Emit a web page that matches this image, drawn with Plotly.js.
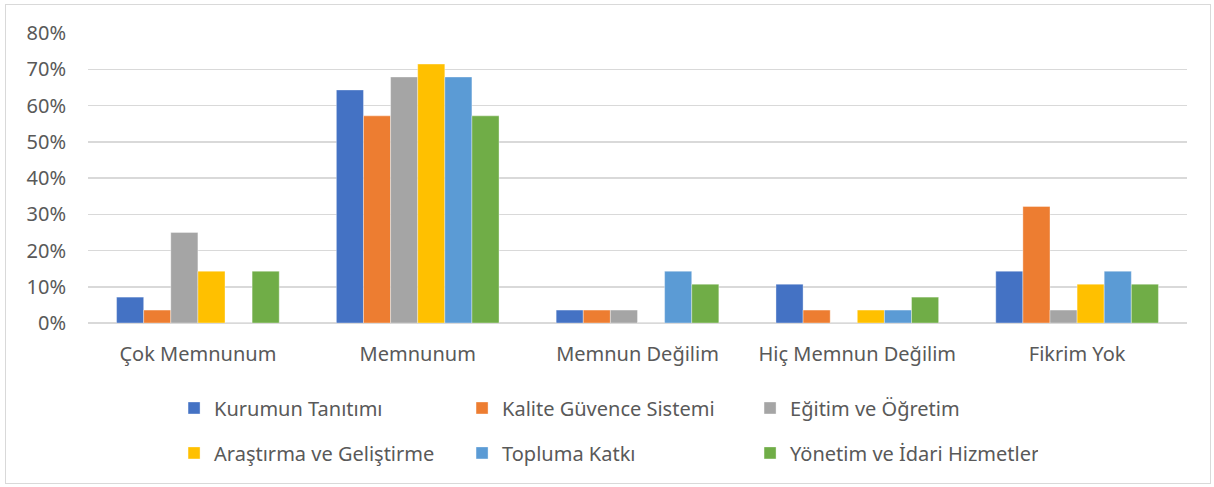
<!DOCTYPE html>
<html><head><meta charset="utf-8">
<script src="https://cdn.plot.ly/plotly-3.0.1.min.js"></script>
<style>
html,body{margin:0;padding:0;background:#fff;width:1214px;height:487px;overflow:hidden;}
#frame{position:absolute;left:5px;top:4px;width:1204px;height:478px;border:1px solid #d9d9d9;}
#chart{position:absolute;left:0;top:0;width:1214px;height:487px;}
</style></head>
<body>
<div id="frame"></div>
<div id="chart"></div>
<script>
const categories = ["Çok Memnunum", "Memnunum", "Memnun Değilim", "Hiç Memnun Değilim", "Fikrim Yok"];
const seriesNames = ["Kurumun Tanıtımı", "Kalite Güvence Sistemi", "Eğitim ve Öğretim", "Araştırma ve Geliştirme", "Topluma Katkı", "Yönetim ve İdari Hizmetler"];
const kurumunTanitimi = [0.0714, 0.6429, 0.0357, 0.1071, 0.1429];
const kaliteGuvence = [0.0357, 0.5714, 0.0357, 0.0357, 0.3214];
const egitimOgretim = [0.25, 0.6786, 0.0357, 0, 0.0357];
const arastirmaGelistirme = [0.1429, 0.7143, 0, 0.0357, 0.1071];
const toplumaKatki = [0, 0.6786, 0.1429, 0.0357, 0.1429];
const yonetimIdari = [0.1429, 0.5714, 0.1071, 0.0714, 0.1071];
const seriesValues = [kurumunTanitimi, kaliteGuvence, egitimOgretim, arastirmaGelistirme, toplumaKatki, yonetimIdari];
const colors = ["#4472C4", "#ED7D31", "#A5A5A5", "#FFC000", "#5B9BD5", "#70AD47"];

const font = "Noto Sans, Open Sans, sans-serif";
const traces = seriesNames.map((n, i) => ({
  type: "bar",
  name: n,
  x: categories,
  y: seriesValues[i],
  legend: i < 3 ? "legend" : "legend2",
  marker: {color: colors[i], line: {color: "rgba(255,255,255,0.6)", width: 0.6}},
  hoverinfo: "none"
}));

const legendBase = {
  orientation: "h",
  x: 0.0783, xanchor: "left",
  yanchor: "middle",
  entrywidth: 243, entrywidthmode: "pixels",
  font: {size: 20, color: "#595959", family: font},
  bgcolor: "rgba(0,0,0,0)",
  traceorder: "normal"
};

const layout = {
  width: 1214, height: 487,
  paper_bgcolor: "rgba(0,0,0,0)",
  plot_bgcolor: "rgba(0,0,0,0)",
  margin: {l: 88, r: 27, t: 33, b: 164, autoexpand: false},
  barmode: "group",
  bargap: 0.26,
  bargroupgap: 0,
  font: {family: font, color: "#595959", size: 20},
  xaxis: {
    showgrid: false, showline: false, zeroline: false,
    ticks: "", tickfont: {size: 20, color: "#595959", family: font},
    ticklabelstandoff: 17
  },
  yaxis: {
    range: [0, 0.8], dtick: 0.1, tickformat: ".0%",
    showgrid: true, gridcolor: "#d9d9d9", gridwidth: 1.5,
    zeroline: true, zerolinecolor: "#d9d9d9", zerolinewidth: 1.5,
    showline: false, ticks: "",
    tickfont: {size: 20, color: "#595959", family: font},
    ticklabelstandoff: 21
  },
  showlegend: true,
  legend: Object.assign({}, legendBase, {y: -0.293}),
  legend2: Object.assign({}, legendBase, {y: -0.448})
};
Plotly.newPlot("chart", traces, layout, {staticPlot: true});
</script>
</body></html>
